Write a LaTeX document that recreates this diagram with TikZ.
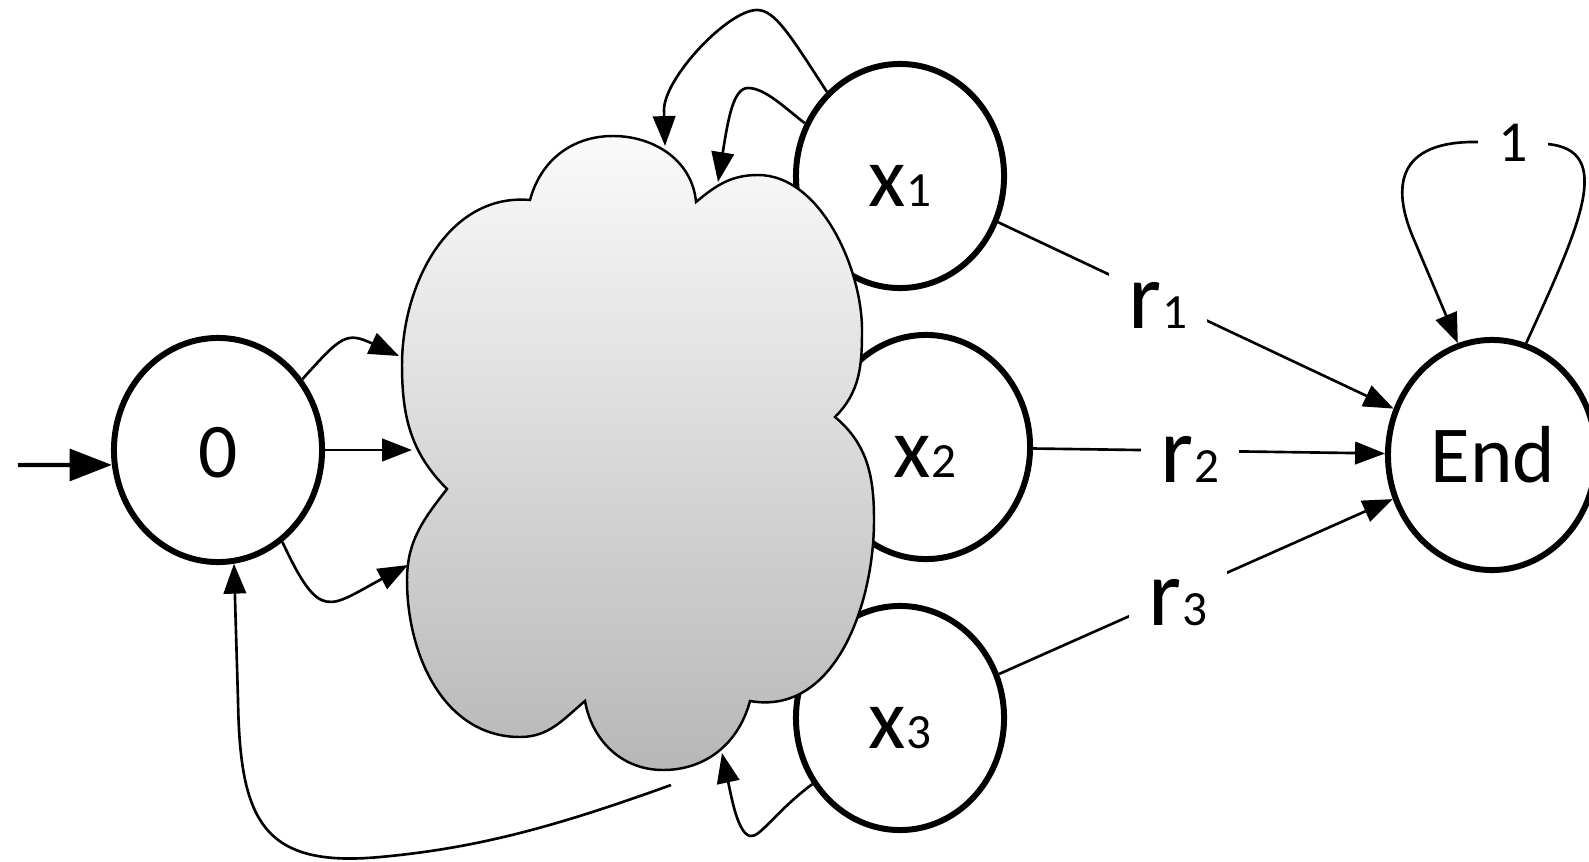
\documentclass[tikz,border=0pt]{standalone}
\usepackage{fontspec}
\setmainfont{Carlito}
\usetikzlibrary{arrows.meta,shapes.geometric}
\definecolor{cloudtop}{RGB}{250,250,250}
\definecolor{cloudbot}{RGB}{183,183,183}
\newcommand\szf[1]{\fontsize{#1}{#1}\selectfont}

\begin{document}
\begin{tikzpicture}[x=0.01cm,y=-0.01cm,
  state/.style={ellipse,draw,line width=1.7pt,fill=white,
    minimum width=2.08cm,minimum height=2.24cm,inner sep=0pt},
  conn/.style={line width=0.75pt,-{Triangle[length=8.5pt,width=6.4pt]}},
  lbl/.style={anchor=base,inner sep=0pt},
  rlbl/.style={anchor=base,fill=white,inner xsep=5.7pt,inner ysep=3pt},
]
\useasboundingbox (0,0) rectangle (1589,861);

% the three x-states sit behind the cloud
\node[state] (X1) at (900,176) {};
\node[state] (X2) at (926,447) {};
\node[state] (X3) at (900,718) {};

% cloud of intermediate states
\draw[line width=0.7pt, top color=cloudtop, bottom color=cloudbot]
  (530,200) to[out=75,in=180] (613,136) to[out=0,in=95] (696,202)
  to[out=40,in=180] (758,175) to[out=0,in=90,looseness=0.85] (862,330)
  to[out=-90,in=45] (835,417)
  to[out=-40,in=90] (874,520) to[out=-90,in=-10] (750,701)
  to[out=-105,in=0] (663,770) to[out=180,in=-80] (585,701)
  to[out=-140,in=0] (520,737) to[out=180,in=-90] (407,580)
  to[out=90,in=-128] (447,489)
  to[out=135,in=-90] (402,365) to[out=90,in=175] (530,200) -- cycle;

% start and end states
\node[state] (n0) at (218,450) {};
\node[state,minimum height=2.30cm] (End) at (1492,455) {};

% state texts
\node[lbl] (n0t) at (218,477) {\szf{22}0};
\node[lbl] (Endt) at (1493,482) {\szf{23}End};
\node[lbl] (X1t) at (900,207) {{\szf{24.5}x}{\szf{14}1}};
\node[lbl] (X2t) at (925,477) {{\szf{24.5}x}{\szf{14}2}};
\node[lbl] (X3t) at (900,748) {{\szf{24.5}x}{\szf{14}3}};

% points on the cloud outline
\coordinate (ca1) at (399,356);
\coordinate (ca2) at (412,450);
\coordinate (ca3) at (408,565);
\coordinate (ct1) at (665,146);
\coordinate (ct2) at (718,182);
\coordinate (ct3) at (722,753);
\coordinate (cb) at (671,785);
\coordinate (init) at (18,465);
\coordinate (loopR) at (1547,144);
\coordinate (loopL) at (1480,142);

% initial arrow
\draw[line width=1.2pt,-{Triangle[length=12pt,width=9pt]}] (init) -- (n0.188);

% from the start state into the cloud
\draw[conn] (n0.40) to[out=48,in=155,looseness=1.5] (ca1);
\draw[conn] (n0) -- (ca2);
\draw[conn] (n0.-55) to[out=-65,in=208,looseness=1.8] (ca3);

% back from the cloud to the start state
\draw[conn] (cb) .. controls (560,825) and (480,848) .. (380,857)
  .. controls (262,868) and (240,820) .. (238,700) -- (n0.-82);

% x-states back into the cloud
\draw[conn] (X1.131) .. controls (790,35) and (775,10) .. (757,10)
  .. controls (728,10) and (664,78) .. (664,110) -- (ct1);
\draw[conn] (X1.151) .. controls (785,108) and (765,88) .. (748,88)
  .. controls (733,88) and (728,120) .. (ct2);
\draw[conn] (X3.217) .. controls (775,812) and (760,838) .. (750,836)
  .. controls (738,833) and (732,800) .. (ct3);

% rewards to the end state
\draw[conn] (X1) -- (End);
\draw[conn] (X2) -- (End);
\draw[conn] (X3) -- (End);
\node[rlbl] (r1) at (1158,328) {{\szf{27}r}{\szf{14}1}};
\node[rlbl] (r2) at (1190,482) {{\szf{27}r}{\szf{14}2}};
\node[rlbl] (r3) at (1178,625) {{\szf{27}r}{\szf{14}3}};

% self loop on the end state
\draw[conn] (End.73) .. controls (1580,225) and (1615,150) .. (loopR)
  -- (loopL) .. controls (1395,140) and (1393,188) .. (1412,235)
  -- (End.107);
\node[rlbl] (one) at (1513,162) {\szf{16.5}1};
\end{tikzpicture}
\end{document}
